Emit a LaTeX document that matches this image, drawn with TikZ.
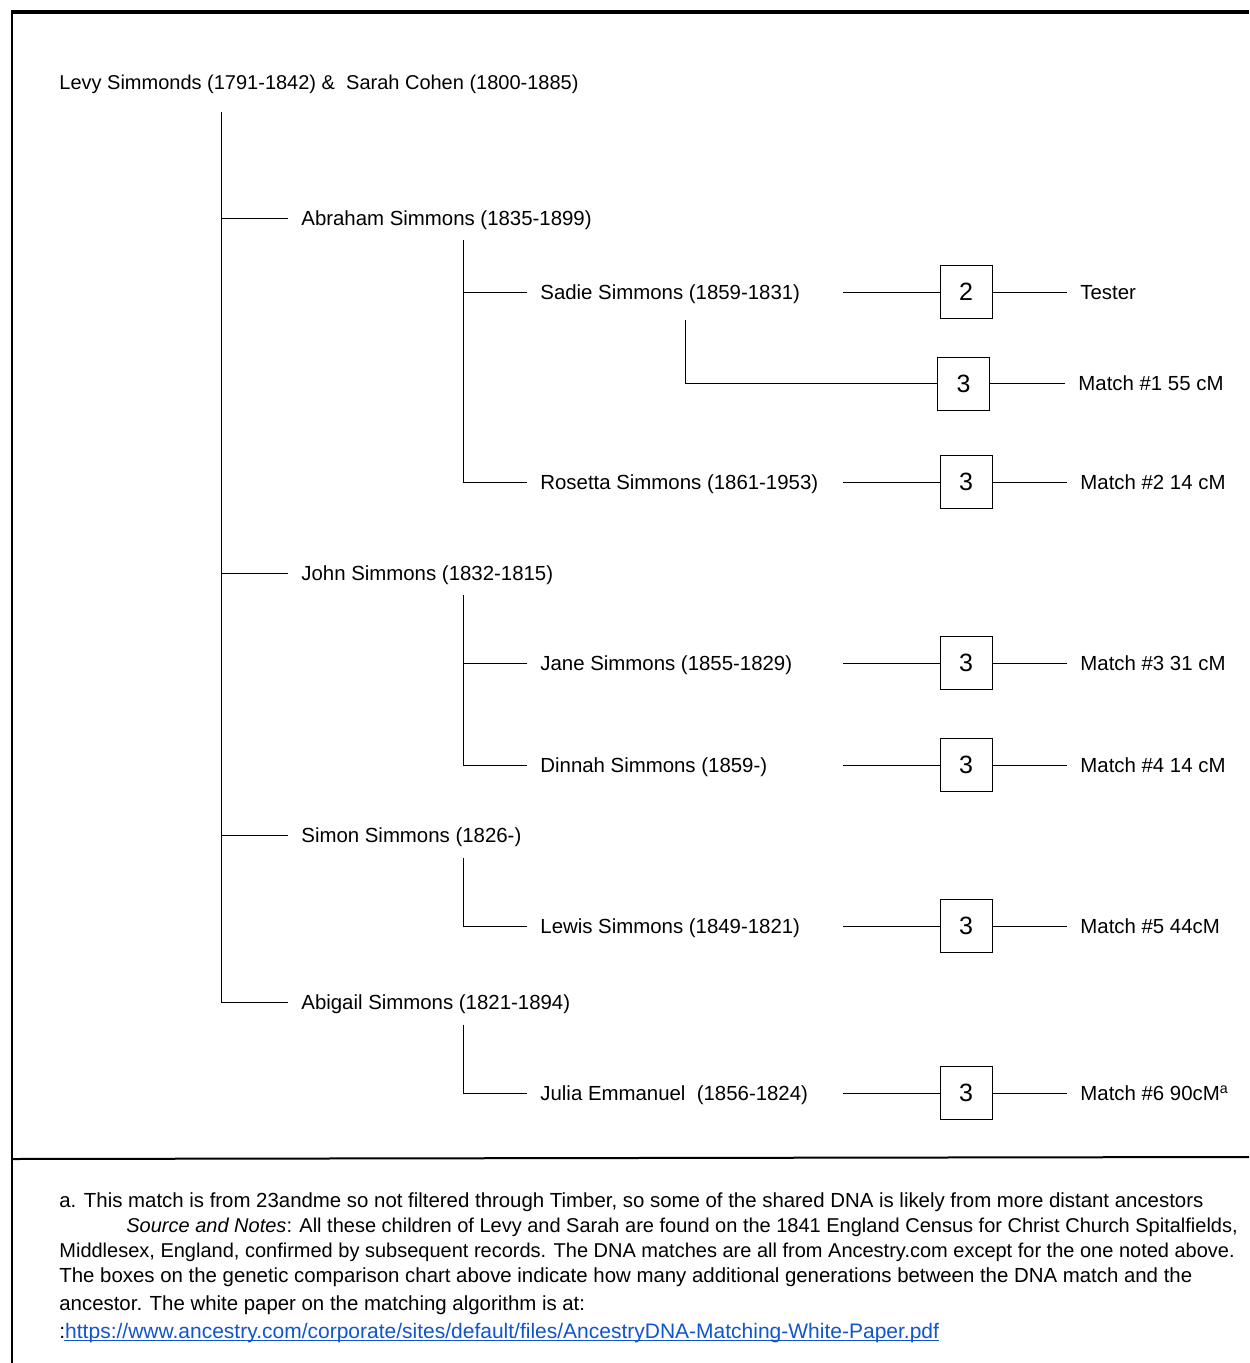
\documentclass[tikz,border=0pt]{standalone}
\usepackage{fontspec}
\setmainfont{Liberation Sans}
\usetikzlibrary{positioning}
\definecolor{linkblue}{HTML}{1155CC}

\begin{document}
\begin{tikzpicture}[x=0.5pt,y=-0.5pt,font=\fontsize{10.2}{12}\selectfont,
person/.style={anchor=west, inner xsep=6.5pt, inner ysep=0pt, text depth=0pt},
gen/.style={draw, minimum width=26pt, minimum height=26.5pt, inner sep=0pt,
    font=\fontsize{12.5}{14}\selectfont},
match/.style={anchor=west, inner xsep=6.5pt, inner ysep=0pt, text depth=0pt},
note/.style={anchor=base west, inner sep=0pt}]
\useasboundingbox (0,0) rectangle (1249,1363);
% frame
\draw[line width=2pt] (11,12) -- (1249,12);
\draw[line width=1pt] (12,12) -- (12,1363);
\draw[line width=1pt] (12,1159) -- (1249,1157);

% the couple
\node[anchor=west, inner sep=0pt, text depth=0pt, font=\fontsize{10}{12}\selectfont] (levy) at (59,82) {Levy Simmonds (1791-1842) \&\ \ Sarah Cohen (1800-1885)};
\coordinate (trunk) at (221,112);

% children
\node[person] (abraham) at (288,218) {Abraham Simmons (1835-1899)};
\node[person] (john) at (288,573) {John Simmons (1832-1815)};
\node[person] (simon) at (288,835) {Simon Simmons (1826-)};
\node[person] (abigail) at (288,1002) {Abigail Simmons (1821-1894)};
\draw (trunk) |- (abigail.west);
\foreach \c in {abraham,john,simon}
  \draw (trunk |- \c.west) -- (\c.west);

% grandchildren
\node[person] (sadie) at (527,292) {Sadie Simmons (1859-1831)};
\node[person] (rosetta) at (527,482) {Rosetta Simmons (1861-1953)};
\node[person] (jane) at (527,663) {Jane Simmons (1855-1829)};
\node[person] (dinnah) at (527,765) {Dinnah Simmons (1859-)};
\node[person] (lewis) at (527,926) {Lewis Simmons (1849-1821)};
\node[person] (julia) at (527,1093) {Julia Emmanuel\ \ (1856-1824)};
\coordinate (abraham-d) at (463,240);
\coordinate (john-d) at (463,595);
\coordinate (simon-d) at (463,858);
\coordinate (abigail-d) at (463,1025);
\draw (abraham-d) |- (rosetta.west);
\draw (abraham-d |- sadie.west) -- (sadie.west);
\draw (john-d) |- (dinnah.west);
\draw (john-d |- jane.west) -- (jane.west);
\draw (simon-d) |- (lewis.west);
\draw (abigail-d) |- (julia.west);

% generation boxes
\node[gen] (g-tester) at (966,292) {2};
\node[gen] (g-m1) at (963.5,383.5) {3};
\node[gen] (g-m2) at (966,482) {3};
\node[gen] (g-m3) at (966,663) {3};
\node[gen] (g-m4) at (966,765) {3};
\node[gen] (g-m5) at (966,926) {3};
\node[gen] (g-m6) at (966,1093) {3};
\coordinate (sadie-d) at (685,320);
\draw (sadie-d) |- (g-m1.west);
\foreach \p/\g in {sadie/tester,rosetta/m2,jane/m3,dinnah/m4,lewis/m5,julia/m6}
  \draw (843,0 |- g-\g.west) -- (g-\g.west);

% matches
\node[match] (tester) at (1067,292) {Tester};
\node[match] (m1) at (1065,383.5) {Match \#1 55 cM};
\node[match] (m2) at (1067,482) {Match \#2 14 cM};
\node[match] (m3) at (1067,663) {Match \#3 31 cM};
\node[match] (m4) at (1067,765) {Match \#4 14 cM};
\node[match] (m5) at (1067,926) {Match \#5 44cM};
\node[match] (m6) at (1067,1093) {Match \#6 90cM\textsuperscript{a}};
\foreach \g/\m in {tester/tester,m1/m1,m2/m2,m3/m3,m4/m4,m5/m5,m6/m6}
  \draw (g-\g.east) -- (\m.west);

% source notes
\node[note] (note1) at (59,1207) {a. This match is from 23andme so not filtered through Timber, so some of the shared DNA is likely from more distant ancestors};
\node[note, font=\fontsize{10}{12}\selectfont] (note2) at (126,1232) {\textit{Source and Notes}: All these children of Levy and Sarah are found on the 1841 England Census for Christ Church Spitalfields,};
\node[note, font=\fontsize{10}{12}\selectfont] (note3) at (59,1257) {Middlesex, England, confirmed by subsequent records. The DNA matches are all from Ancestry.com except for the one noted above.};
\node[note] (note4) at (59,1282) {The boxes on the genetic comparison chart above indicate how many additional generations between the DNA match and the};
\node[note] (note5) at (59,1310) {ancestor. The white paper on the matching algorithm is at:};
\node[note, font=\fontsize{10.5}{12}\selectfont] (note6) at (59,1338) {:\textcolor{linkblue}{https://www.ancestry.com/corporate/sites/default/files/AncestryDNA-Matching-White-Paper.pdf}};
\draw[linkblue, line width=0.6pt] ([xshift=2.5pt,yshift=-1.4pt]note6.base west) -- ([yshift=-1.4pt]note6.base east);
\end{tikzpicture}
\end{document}
